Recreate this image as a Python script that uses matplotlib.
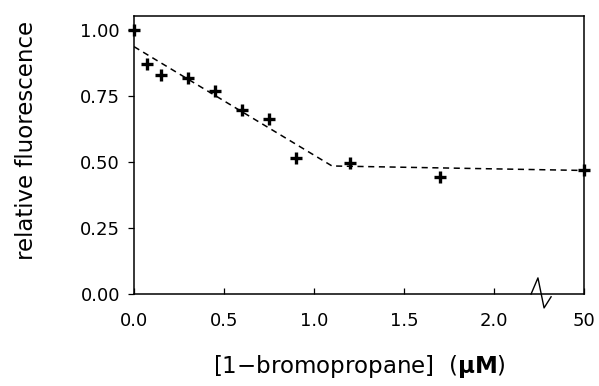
import numpy as np
import matplotlib
matplotlib.use("Agg")
import matplotlib.pyplot as plt

# ---- data ----
conc = [0.0, 0.075, 0.15, 0.30, 0.45, 0.60, 0.75, 0.90, 1.20, 1.70, 50.0]
fluor = [1.00, 0.871, 0.831, 0.818, 0.769, 0.697, 0.664, 0.514, 0.495, 0.442, 0.470]
fit_x = [0.0, 1.10, 50.0]
fit_y = [0.937, 0.485, 0.468]
xticks = [0.0, 0.5, 1.0, 1.5, 2.0, 50.0]
xticklabels = ["0.0", "0.5", "1.0", "1.5", "2.0", "50"]
yticks = [0.0, 0.25, 0.50, 0.75, 1.00]
yticklabels = ["0.00", "0.25", "0.50", "0.75", "1.00"]

# broken x axis: linear up to BREAK, then 50 compressed to 2.5
BREAK = 2.2
SPAN_HI = 50.0 - BREAK
SPAN_LO = 2.5 - BREAK


def fwd(x):
    x = np.asarray(x, dtype=float)
    return np.where(x <= BREAK, x, BREAK + (x - BREAK) * SPAN_LO / SPAN_HI)


def inv(y):
    y = np.asarray(y, dtype=float)
    return np.where(y <= BREAK, y, BREAK + (y - BREAK) * SPAN_HI / SPAN_LO)


plt.rcParams["font.family"] = ["DejaVu Sans"]

fig = plt.figure(figsize=(5.99, 3.86), dpi=100)
ax = fig.add_axes([0.2237, 0.2383, 0.7513, 0.7202])
ax.set_xscale("function", functions=(fwd, inv))

ax.plot(fit_x, fit_y, color="black", lw=1.1, dashes=(4.0, 3.0))
ax.plot(conc, fluor, linestyle="none", marker="+", ms=8.2, mew=2.4,
        color="black", clip_on=False, zorder=5)

ax.set_xlim(0, 50)
ax.set_ylim(0, 1.053)
ax.set_xticks(xticks)
ax.set_xticklabels(xticklabels)
ax.set_yticks(yticks)
ax.set_yticklabels(yticklabels)
ax.minorticks_off()

ax.tick_params(axis="x", direction="in", length=4, width=0.9, pad=13,
               labelsize=13)
ax.tick_params(axis="y", direction="out", length=4, width=0.9, pad=6,
               labelsize=13)
for s in ax.spines.values():
    s.set_linewidth(1.1)

# axis-break zigzag (decoration, in axes coordinates)
zig_x = [0.8824, 0.8976, 0.9112, 0.9268]
zig_y = [0.0, 0.058, -0.050, -0.010]
ax.plot(zig_x, zig_y, color="black", lw=1.0, transform=ax.transAxes,
        clip_on=False, zorder=6)

ax.set_xlabel(r"[1$-$bromopropane]  ($\mathbf{\mu M}$)", fontsize=16.5)
ax.xaxis.set_label_coords(0.5, -0.259)
ax.xaxis.label.set_va("center")

ax.set_ylabel("relative fluorescence", fontsize=16.5)
ax.yaxis.set_label_coords(-0.238, 0.554)
ax.yaxis.label.set_va("center")

fig.savefig("out.png", dpi=100)
